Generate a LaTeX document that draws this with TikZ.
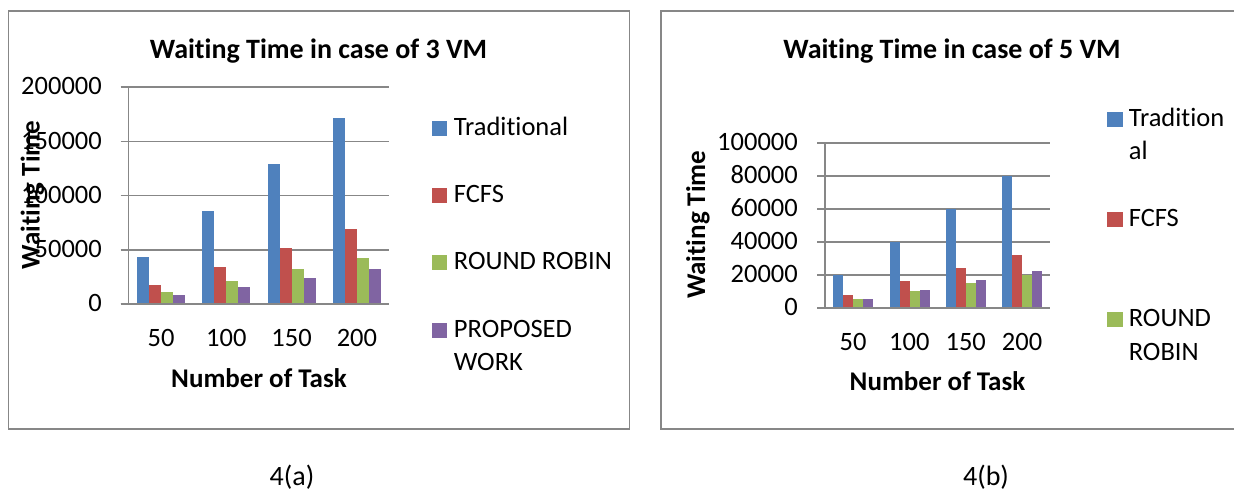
\documentclass[tikz,border=0pt]{standalone}
\usepackage{fontspec}
\setmainfont{Carlito}[Ligatures={NoCommon}]
\definecolor{sblue}{HTML}{4F81BD}
\definecolor{sred}{HTML}{C0504D}
\definecolor{sgreen}{HTML}{9BBB59}
\definecolor{spurple}{HTML}{8064A2}
\definecolor{gridgray}{HTML}{878787}
\begin{document}
\begin{tikzpicture}[x=1pt,y=-1pt,
  framebox/.style={draw=gridgray,line width=1.5pt},
  gridln/.style={draw=gridgray,line width=1.6pt},
  txt/.style={inner sep=0pt,font=\fontsize{26.5}{30}\selectfont},
  ticklbl/.style={txt,anchor=base east},
  catlbl/.style={txt,anchor=base},
  legtxt/.style={txt,anchor=base west},
  captxt/.style={inner sep=0pt,anchor=base,font=\fontsize{28}{30}\selectfont},
  ttl/.style={inner sep=0pt,anchor=base,font=\fontsize{28}{30}\selectfont\bfseries},
  axttl/.style={inner sep=0pt,anchor=base,font=\fontsize{27}{30}\selectfont\bfseries}]
\useasboundingbox (0,0) rectangle (1234,493);
\fill[white] (0,0) rectangle (1234,493);

% ================= LEFT CHART (3 VM) =================
\draw[framebox] (8.5,11) rectangle (629.5,429);
\node[ttl] (tA) at (318.5,58.3) {Waiting Time in case of 3 VM};
\foreach \v/\lab [count=\k] in {0/0,50/50000,100/100000,150/150000,200/200000}{
  \pgfmathsetmacro{\yy}{304-\v*1.084}
  \draw[gridln] (120.5,\yy) -- (389,\yy);
  \node[ticklbl] (ayt\k) at (102,\yy+7.7) {\lab};
}
\draw[gridln] (128.5,87) -- (128.5,304);
\foreach \t/\f/\r/\p [count=\i from 0] in {43/17.2/10.7/8,86/34.4/21.4/16,129/51.6/32.1/24,172/68.8/42.8/32}{
  \pgfmathsetmacro{\xx}{137+65.3*\i}
  \fill[sblue]   (\xx,304) rectangle ++(12,-\t*1.084);
  \fill[sred]    (\xx+12,304) rectangle ++(12,-\f*1.084);
  \fill[sgreen]  (\xx+24,304) rectangle ++(12,-\r*1.084);
  \fill[spurple] (\xx+36,304) rectangle ++(12,-\p*1.084);
}
\draw[gridln] (120.5,304) -- (389,304);
\foreach \c [count=\i from 0] in {50,100,150,200}{
  \node[catlbl] (axc\c) at (161+65.3*\i,346.7) {\c};
}
\node[axttl] (axA) at (259,387.7) {Number of Task};
\node[axttl,rotate=90] (ayA) at (39.5,195) {Waiting Time};
\fill[sblue]   (432,120.7) rectangle (447,135.7);
\node[legtxt] (lA1) at (453.7,135) {Traditional};
\fill[sred]    (432,187.7) rectangle (447,202.7);
\node[legtxt] (lA2) at (453.7,202.7) {FCFS};
\fill[sgreen]  (432,255) rectangle (447,270);
\node[legtxt] (lA3) at (453.7,269.3) {ROUND ROBIN};
\fill[spurple] (432,323) rectangle (447,338);
\node[legtxt] (lA4) at (453.7,337.7) {PROPOSED};
\node[legtxt] (lA5) at (453.7,370.7) {WORK};

% ================= RIGHT CHART (5 VM) =================
\draw[framebox] (1240,11) -- (661,11) -- (661,429) -- (1240,429);
\node[ttl] (tB) at (952,58.3) {Waiting Time in case of 5 VM};
\foreach \v/\lab [count=\k] in {0/0,20/20000,40/40000,60/60000,80/80000,100/100000}{
  \pgfmathsetmacro{\yy}{307.7-\v*1.65}
  \draw[gridln] (817,\yy) -- (1050.4,\yy);
  \node[ticklbl] (byt\k) at (798,\yy+7.3) {\lab};
}
\draw[gridln] (825,142.7) -- (825,307.7);
\foreach \t/\f/\r/\p [count=\i from 0] in {20/8/5/5.5,40/16/10/11,60/24/15/16.5,80/32/20/22}{
  \pgfmathsetmacro{\xx}{833.2+56.35*\i}
  \fill[sblue]   (\xx,307.7) rectangle ++(10,-\t*1.65);
  \fill[sred]    (\xx+10,307.7) rectangle ++(10,-\f*1.65);
  \fill[sgreen]  (\xx+20,307.7) rectangle ++(10,-\r*1.65);
  \fill[spurple] (\xx+30,307.7) rectangle ++(10,-\p*1.65);
}
\draw[gridln] (817,307.7) -- (1050.4,307.7);
\foreach \c [count=\i from 0] in {50,100,150,200}{
  \node[catlbl] (bxc\c) at (853+56.35*\i,350) {\c};
}
\node[axttl] (axB) at (937.5,390.7) {Number of Task};
\node[axttl,rotate=90] (ayB) at (705,224.7) {Waiting Time};
\fill[sblue]   (1107.4,111.7) rectangle (1123,126.7);
\node[legtxt] (lB1) at (1128.6,126.7) {Tradition};
\node[legtxt] (lB1b) at (1128.6,159) {al};
\fill[sred]    (1107.4,211.7) rectangle (1123,226.7);
\node[legtxt] (lB2) at (1128.6,226.7) {FCFS};
\fill[sgreen]  (1107.4,311.7) rectangle (1123,326.7);
\node[legtxt] (lB3) at (1128.6,326.7) {ROUND};
\node[legtxt] (lB3b) at (1128.6,360) {ROBIN};

% captions
\node[captxt] (capA) at (292,485.5) {4(a)};
\node[captxt] (capB) at (986,485.5) {4(b)};
\end{tikzpicture}
\end{document}
